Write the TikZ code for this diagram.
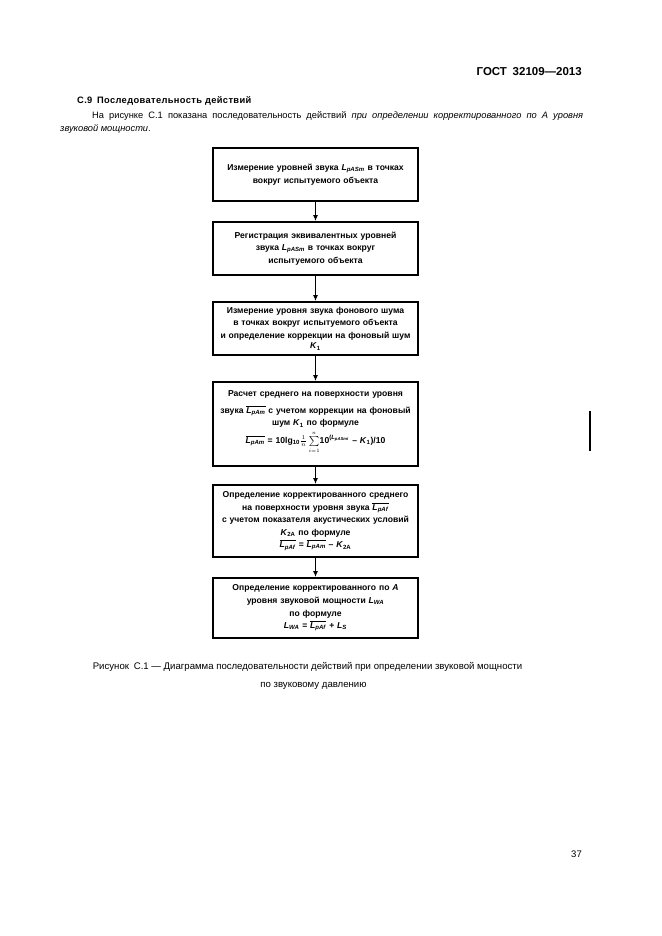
\documentclass[tikz,border=0pt]{standalone}
\usepackage{fontspec}
\setmainfont{Liberation Sans}
\usetikzlibrary{arrows.meta}
\newcommand\Lx[1]{\textit{L}\textsubscript{\textit{#1}}}
\newcommand\Kx[1]{\textit{K}\textsubscript{#1}}
\newcommand\Lo[1]{$\overline{\hbox{\Lx{#1}}}$}
\tikzset{
  stepbox/.style={draw, line width=1.9pt, minimum width=205pt, text width=202pt,
    align=center, inner sep=0pt, font=\bfseries\fontsize{8.6}{12.6}\selectfont},
  arr/.style={line width=1.9pt, -{Latex[length=6pt,width=5pt]}},
  body/.style={font=\fontsize{9.3}{12}\selectfont, inner sep=0pt}
}
\begin{document}
\begin{tikzpicture}[x=1pt,y=-1pt]
\useasboundingbox (0,0) rectangle (661,936);
% header
\node[anchor=base east, inner sep=0pt, font=\bfseries\fontsize{11.5}{13}\selectfont] (hdr) at (582,76) {ГОСТ\enspace 32109—2013};
\node[anchor=base west, inner sep=0pt, font=\bfseries\fontsize{9.3}{12}\selectfont] (sec) at (77,104) {\addfontfeature{LetterSpace=4}С.9\enspace Последовательность действий};
\node[anchor=base west, body] (p1) at (92,119) {\hbox to 491pt{На рисунке С.1 показана последовательность действий \textit{при определении корректированного по А уровня}}};
\node[anchor=base west, body] (p2) at (60,132) {\textit{звуковой мощности}.};
% boxes
\node[stepbox, minimum height=53pt] (b1) at (315.5,174.5) {Измерение уровней звука \Lx{pASm} в точках\\вокруг испытуемого объекта};
\node[stepbox, minimum height=53pt] (b2) at (315.5,248.5) {Регистрация эквивалентных уровней\\звука \Lx{pASm} в точках вокруг\\испытуемого объекта};
\node[stepbox, minimum height=53pt] (b3) at (315.5,328.5) {Измерение уровня звука фонового шума\\в точках вокруг испытуемого объекта\\и определение коррекции на фоновый шум\\[-2pt]\Kx{1}};
\node[stepbox, minimum height=84pt] (b4) at (315.5,424) {Расчет среднего на поверхности уровня\\[4pt]звука \Lo{pAm} с учетом коррекции на фоновый\\шум \Kx{1} по формуле\\[5pt]
\smash{\Lo{pAm} = 10lg\textsubscript{10}$\frac{1}{n}\sum\limits_{\scriptscriptstyle i=1}^{\scriptscriptstyle n}$10\textsuperscript{(\Lx{pASmi}} -- \Kx{1})/10}\\[1pt]\mbox{}};
\node[stepbox, minimum height=72pt] (b5) at (315.5,521) {Определение корректированного среднего\\на поверхности уровня звука \Lo{pAf}\\с учетом показателя акустических условий\\\Kx{2A} по формуле\\\Lo{pAf} = \Lo{pAm} -- \Kx{2A}};
\node[stepbox, minimum height=60pt] (b6) at (315.5,608) {Определение корректированного по \textit{A}\\уровня звуковой мощности \Lx{WA}\\по формуле\\\Lx{WA} = \Lo{pAf} + \Lx{S}};
% arrows
\draw[arr] (b1) -- (b2);
\draw[arr] (b2) -- (b3);
\draw[arr] (b3) -- (b4);
\draw[arr] (b4) -- (b5);
\draw[arr] (b5) -- (b6);
% change bar
\draw[line width=1.2pt] (590,411) -- (590,451);
% caption
\node[anchor=base, body, font=\fontsize{9.6}{12}\selectfont] (cap1) at (307.5,669) {Рисунок\enspace С.1 — Диаграмма последовательности действий при определении звуковой мощности};
\node[anchor=base, body, font=\fontsize{9.6}{12}\selectfont] (cap2) at (313.5,687) {по звуковому давлению};
\node[anchor=base east, body, font=\fontsize{9.5}{12}\selectfont] (pg) at (582,857) {37};
\end{tikzpicture}
\end{document}
